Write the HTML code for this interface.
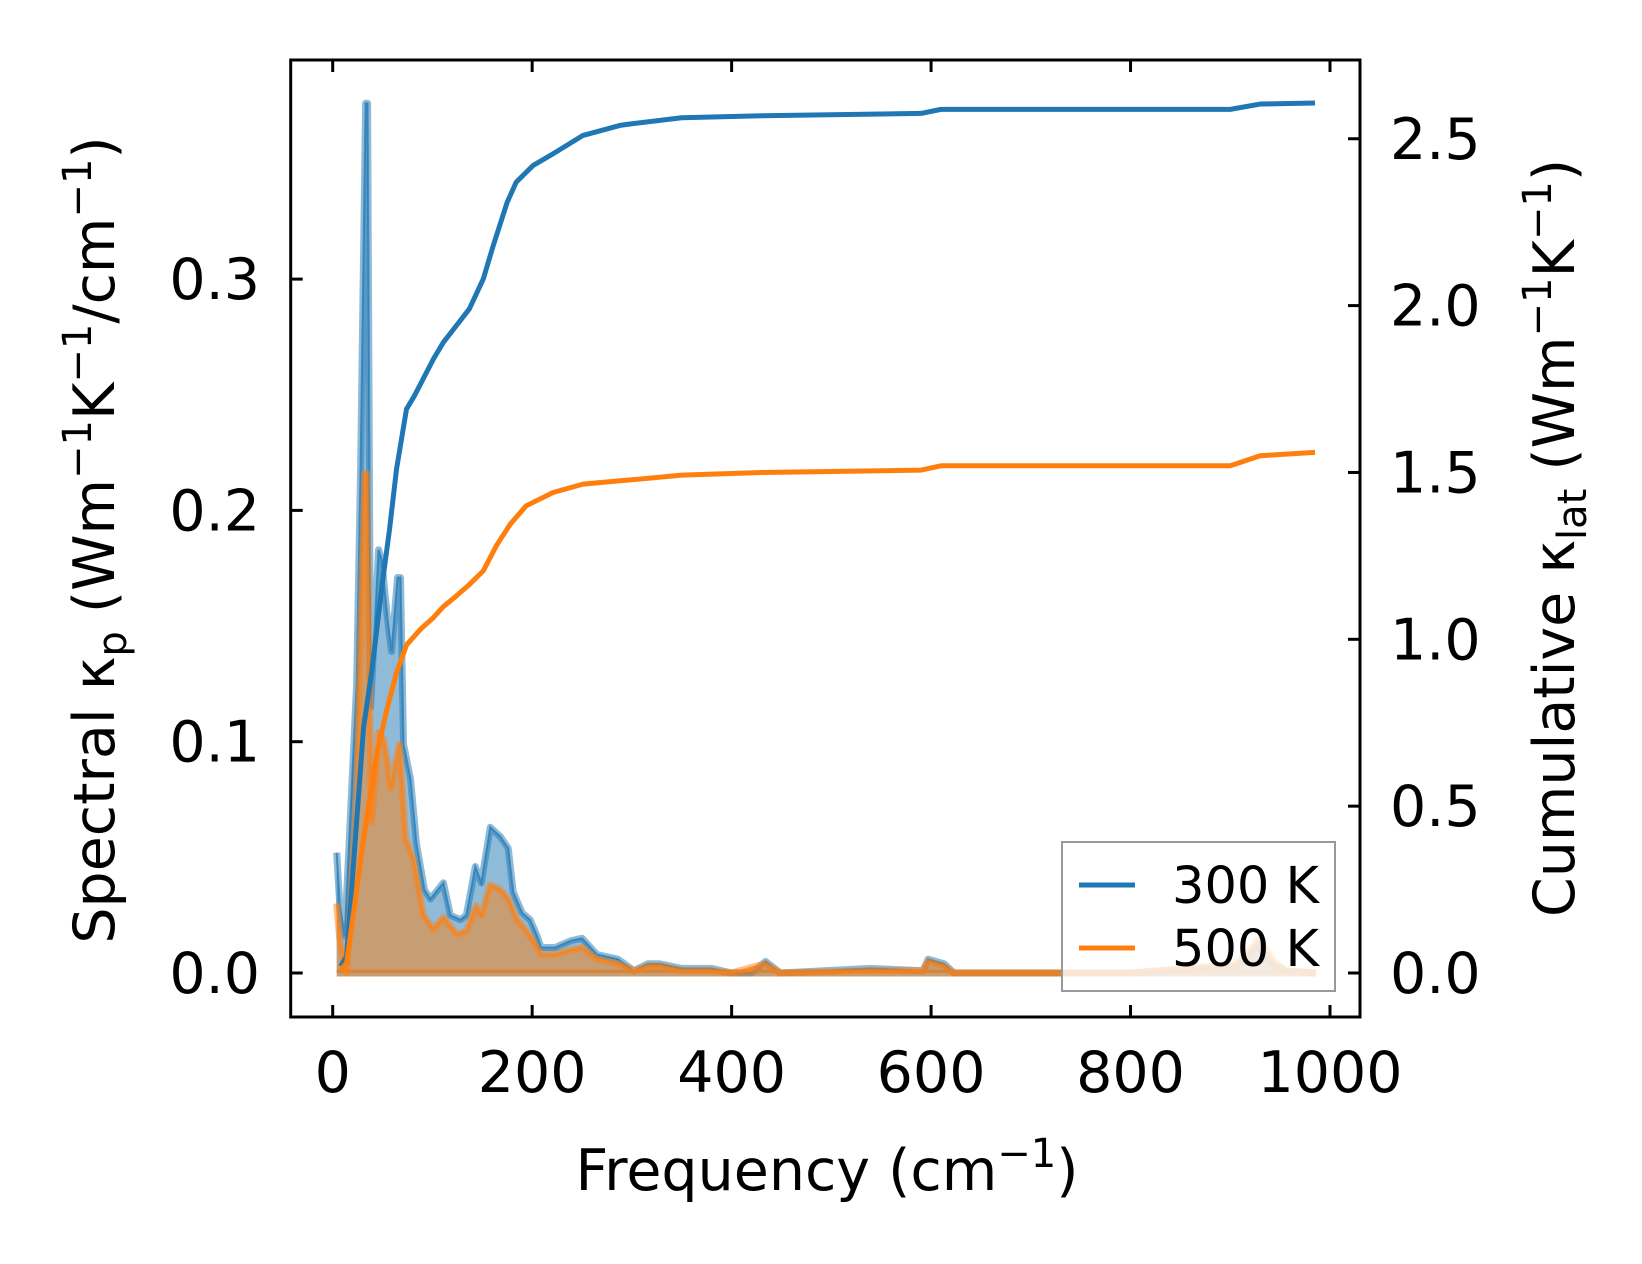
<!DOCTYPE html>
<html><head><meta charset="utf-8"><style>
html,body{margin:0;padding:0;background:#fff}
svg{display:block;font-family:"DejaVu Sans","Liberation Sans",sans-serif}
</style></head><body>
<svg id="chart" width="1642" height="1264" viewBox="0 0 1642 1264" xmlns="http://www.w3.org/2000/svg">
<rect x="0" y="0" width="1642" height="1264" fill="#fff"/>
<g id="plot"></g>
<g id="axes"></g>
<text x="827" y="1190" font-size="57" text-anchor="middle">Frequency (cm<tspan dy="-23" font-size="40">−1</tspan><tspan dy="23">)</tspan></text>
<text transform="translate(114,540) rotate(-90)" font-size="57" text-anchor="middle">Spectral κ<tspan dy="12" font-size="40">p</tspan><tspan dy="-12"> (Wm</tspan><tspan dy="-23" font-size="40">−1</tspan><tspan dy="23">K</tspan><tspan dy="-23" font-size="40">−1</tspan><tspan dy="23">/cm</tspan><tspan dy="-23" font-size="40">−1</tspan><tspan dy="23">)</tspan></text>
<text transform="translate(1574,538) rotate(-90)" font-size="57" text-anchor="middle">Cumulative κ<tspan dy="12" font-size="40">lat</tspan><tspan dy="-12"> (Wm</tspan><tspan dy="-23" font-size="40">−1</tspan><tspan dy="23">K</tspan><tspan dy="-23" font-size="40">−1</tspan><tspan dy="23">)</tspan></text>
<g>
<rect x="1062" y="842" width="273" height="149" fill="#fff" fill-opacity="0.8" stroke="#999" stroke-width="2"/>
<line x1="1079" y1="885" x2="1135" y2="885" stroke="#1f77b4" stroke-width="5"/>
<text x="1172" y="903" font-size="51">300 K</text>
<line x1="1079" y1="948" x2="1135" y2="948" stroke="#ff7f0e" stroke-width="5"/>
<text x="1172" y="966" font-size="51">500 K</text>
</g>
</svg>
<script>
const xTicks=[0,200,400,600,800,1000];
const yLeftTicks=[0.0,0.1,0.2,0.3];
const yLeftLabels=["0.0","0.1","0.2","0.3"];
const yRightTicks=[0,0.5,1.0,1.5,2.0,2.5];
const yRightLabels=["0.0","0.5","1.0","1.5","2.0","2.5"];
const freq300=[4,7,12,18,24,28,33,35,38,46,49,55,59,65,68,71,78,84,92,98,111,118,128,134,143,149,158,168,176,181,190,198,205,209,223,239,250,265,286,302,316,328,350,380,400,420,434,449,539,592,597,613,623,800,907,928,939,955,986];
const spec300=[0.052,0.03,0.016,0.07,0.125,0.219,0.376,0.376,0.115,0.183,0.179,0.153,0.139,0.171,0.171,0.099,0.084,0.056,0.036,0.032,0.039,0.025,0.023,0.025,0.046,0.039,0.063,0.059,0.054,0.035,0.026,0.023,0.016,0.011,0.011,0.014,0.015,0.008,0.006,0.001,0.004,0.004,0.002,0.002,0,0,0.005,0,0.002,0.001,0.006,0.004,0,0,0.003,0.012,0.005,0.001,0];
const freq500=[4,7,14,24,32,34,39,46,51,55,58,67,73,81,91,101,111,124,134,144,149,158,168,176,185,198,209,223,239,250,265,286,302,316,328,350,380,400,434,449,539,592,597,613,623,800,907,930,942,955,986];
const spec500=[0.03,0.015,0,0.077,0.216,0.216,0.065,0.104,0.101,0.091,0.08,0.099,0.058,0.049,0.025,0.019,0.024,0.017,0.018,0.029,0.025,0.038,0.036,0.032,0.023,0.016,0.008,0.008,0.01,0.011,0.006,0.004,0.001,0.003,0.003,0.001,0.001,0,0.004,0,0.001,0.001,0.005,0.003,0,0,0.004,0.015,0.006,0.001,0];
const cumF300=[8,14,31,39,49,57,64,74,82,101,111,124,137,151,161,175,184,201,221,251,288,300,350,430,590,610,900,930,985];
const cum300=[0.02,0.05,0.737,0.90,1.15,1.33,1.51,1.69,1.73,1.84,1.89,1.94,1.99,2.08,2.18,2.31,2.37,2.42,2.455,2.51,2.54,2.545,2.563,2.569,2.576,2.588,2.588,2.604,2.607];
const cumF500=[8,14,32,44,54,64,74,88,101,111,124,137,151,164,178,194,221,251,288,300,350,430,590,610,900,930,985];
const cum500=[0.01,0.03,0.424,0.654,0.786,0.90,0.983,1.03,1.065,1.098,1.13,1.164,1.205,1.28,1.345,1.40,1.44,1.465,1.475,1.478,1.492,1.50,1.507,1.52,1.52,1.55,1.56];

const X0=290.7,X1=1360,Y0=60,Y1=1017;
function xs(f){return 332.7+f*0.9973;}
function yl(v){return 973-v*2313;}
function yr(v){return 973-v*333.7;}
const NS="http://www.w3.org/2000/svg";
function mk(tag,attrs,parent){const e=document.createElementNS(NS,tag);for(const k in attrs)e.setAttribute(k,attrs[k]);parent.appendChild(e);return e;}
const plot=document.getElementById('plot'),axes=document.getElementById('axes');

function spectral(fr,vals,color,name){
  let d='M'+xs(fr[0])+','+yl(0);
  fr.forEach((f,i)=>{d+=' L'+xs(f)+','+yl(vals[i]);});
  d+=' L'+xs(fr[fr.length-1])+','+yl(0)+' Z';
  const a=mk('path',{d:d,fill:color,'fill-opacity':0.5,stroke:'none'},plot);
  
  
  let l='';fr.forEach((f,i)=>{l+=(i?' L':'M')+xs(f)+','+yl(vals[i]);});
  const b=mk('path',{d:l,fill:'none',stroke:color,'stroke-opacity':0.5,'stroke-width':7,'stroke-linejoin':'round'},plot);
  
  
  const c=mk('path',{d:l,fill:'none',stroke:color,'stroke-opacity':0.7,'stroke-width':2},plot);
  
  
  const z=mk('line',{x1:xs(fr[0]),x2:xs(fr[fr.length-1]),y1:yl(0),y2:yl(0),stroke:color,'stroke-opacity':0.5,'stroke-width':7},plot);
  
  
}
spectral(freq300,spec300,'#1f77b4','spectral-300k');
spectral(freq500,spec500,'#ff7f0e','spectral-500k');
function cumul(fr,vals,color,name){
  let l='';fr.forEach((f,i)=>{l+=(i?' L':'M')+xs(f)+','+yr(vals[i]);});
  const p=mk('path',{d:l,fill:'none',stroke:color,'stroke-width':5,'stroke-linejoin':'round'},plot);
  
  
}
cumul(cumF300,cum300,'#1f77b4','cumulative-300k');
cumul(cumF500,cum500,'#ff7f0e','cumulative-500k');

const fr=mk('rect',{x:X0,y:Y0,width:X1-X0,height:Y1-Y0,fill:'none',stroke:'#000','stroke-width':3},axes);


xTicks.forEach(t=>{
  const x=xs(t);
  const a=mk('line',{x1:x,x2:x,y1:Y1,y2:Y1-12,stroke:'#000','stroke-width':3},axes);
  
  
  const b=mk('line',{x1:x,x2:x,y1:Y0,y2:Y0+12,stroke:'#000','stroke-width':3},axes);
  
  
  const tx=mk('text',{x:x,y:1092,'font-size':57,'text-anchor':'middle'},axes);
  tx.textContent=String(t);
  
  
});
yLeftTicks.forEach((t,i)=>{
  const y=yl(t);
  const a=mk('line',{x1:X0,x2:X0+12,y1:y,y2:y,stroke:'#000','stroke-width':3},axes);
  
  
  const tx=mk('text',{x:260,y:y+20,'font-size':57,'text-anchor':'end'},axes);
  tx.textContent=yLeftLabels[i];
  
  
});
yRightTicks.forEach((t,i)=>{
  const y=yr(t);
  const a=mk('line',{x1:X1,x2:X1-12,y1:y,y2:y,stroke:'#000','stroke-width':3},axes);
  
  
  const tx=mk('text',{x:1390,y:y+20,'font-size':57,'text-anchor':'start'},axes);
  tx.textContent=yRightLabels[i];
  
  
});
</script>
</body></html>
